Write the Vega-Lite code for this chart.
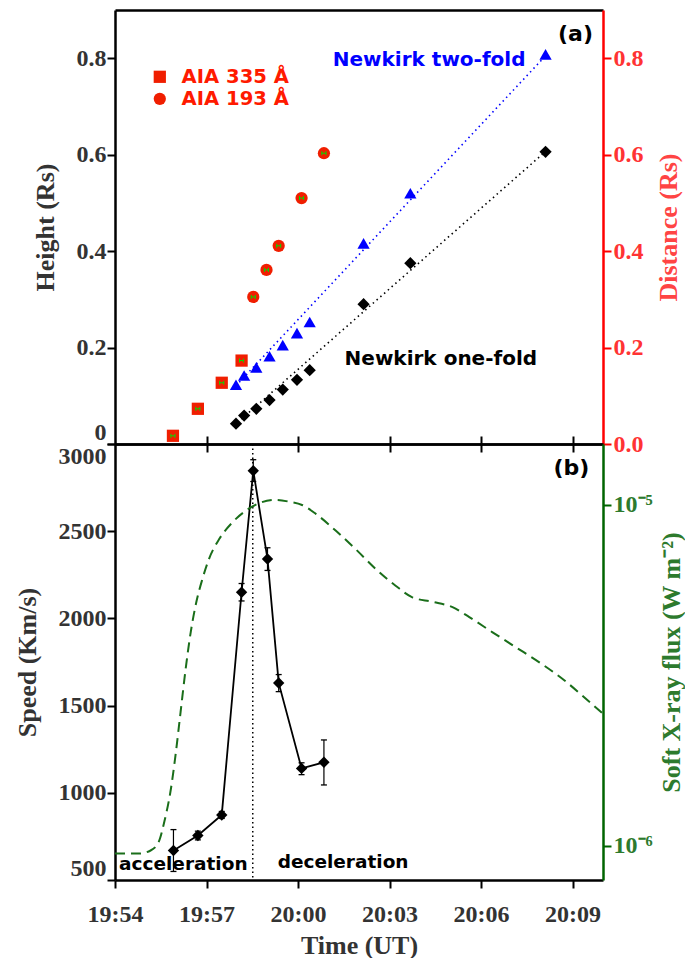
{
  "$schema": "https://vega.github.io/schema/vega-lite/v6.json",
  "background": "white",
  "padding": {"left": 14, "top": 10, "right": 0, "bottom": 0},
  "spacing": 0,
  "bounds": "flush",
  "config": {
    "view": {"stroke": null},
    "axis": {
      "grid": false,
      "ticks": true,
      "tickSize": 8,
      "tickWidth": 2,
      "tickColor": "black",
      "domainColor": "black",
      "domainWidth": 2.5,
      "labelFont": "Liberation Serif",
      "labelFontWeight": "bold",
      "labelFontSize": 24,
      "labelColor": "#333333",
      "titleFont": "Liberation Serif",
      "titleFontWeight": "bold",
      "titleFontSize": 26,
      "titleColor": "#333333",
      "labelOverlap": false
    }
  },
  "datasets": {
    "aia": [
      {"time": "2012-01-01T19:55:54", "tlo": "2012-01-01T19:55:50", "thi": "2012-01-01T19:55:58", "h": 0.017, "band": "AIA 335 Å"},
      {"time": "2012-01-01T19:56:43", "tlo": "2012-01-01T19:56:39", "thi": "2012-01-01T19:56:47", "h": 0.073, "band": "AIA 335 Å"},
      {"time": "2012-01-01T19:57:30", "tlo": "2012-01-01T19:57:26", "thi": "2012-01-01T19:57:34", "h": 0.127, "band": "AIA 335 Å"},
      {"time": "2012-01-01T19:58:09", "tlo": "2012-01-01T19:58:05", "thi": "2012-01-01T19:58:13", "h": 0.173, "band": "AIA 335 Å"},
      {"time": "2012-01-01T19:58:32", "tlo": "2012-01-01T19:58:28", "thi": "2012-01-01T19:58:36", "h": 0.305, "band": "AIA 193 Å"},
      {"time": "2012-01-01T19:58:58", "tlo": "2012-01-01T19:58:54", "thi": "2012-01-01T19:59:02", "h": 0.361, "band": "AIA 193 Å"},
      {"time": "2012-01-01T19:59:22", "tlo": "2012-01-01T19:59:18", "thi": "2012-01-01T19:59:26", "h": 0.411, "band": "AIA 193 Å"},
      {"time": "2012-01-01T20:00:07", "tlo": "2012-01-01T20:00:03", "thi": "2012-01-01T20:00:11", "h": 0.510, "band": "AIA 193 Å"},
      {"time": "2012-01-01T20:00:51", "tlo": "2012-01-01T20:00:47", "thi": "2012-01-01T20:00:55", "h": 0.603, "band": "AIA 193 Å"}
    ],
    "two": [
      {"time": "2012-01-01T19:57:58", "h": 0.123},
      {"time": "2012-01-01T19:58:14", "h": 0.142},
      {"time": "2012-01-01T19:58:38", "h": 0.159},
      {"time": "2012-01-01T19:59:04", "h": 0.182},
      {"time": "2012-01-01T19:59:30", "h": 0.205},
      {"time": "2012-01-01T19:59:58", "h": 0.230},
      {"time": "2012-01-01T20:00:23", "h": 0.253},
      {"time": "2012-01-01T20:02:09", "h": 0.416},
      {"time": "2012-01-01T20:03:41", "h": 0.520},
      {"time": "2012-01-01T20:08:07", "h": 0.808}
    ],
    "one": [
      {"time": "2012-01-01T19:57:58", "h": 0.042},
      {"time": "2012-01-01T19:58:14", "h": 0.059},
      {"time": "2012-01-01T19:58:38", "h": 0.073},
      {"time": "2012-01-01T19:59:04", "h": 0.091},
      {"time": "2012-01-01T19:59:30", "h": 0.113},
      {"time": "2012-01-01T19:59:58", "h": 0.133},
      {"time": "2012-01-01T20:00:23", "h": 0.153},
      {"time": "2012-01-01T20:02:09", "h": 0.290},
      {"time": "2012-01-01T20:03:41", "h": 0.375},
      {"time": "2012-01-01T20:08:07", "h": 0.606}
    ],
    "fit2": [
      {"time": "2012-01-01T19:57:51", "h": 0.113},
      {"time": "2012-01-01T20:08:07", "h": 0.805}
    ],
    "fit1": [
      {"time": "2012-01-01T19:57:54", "h": 0.038},
      {"time": "2012-01-01T20:08:01", "h": 0.601}
    ],
    "speed": [
      {"time": "2012-01-01T19:55:55", "v": 669, "lo": 549, "hi": 789},
      {"time": "2012-01-01T19:56:43", "v": 755, "lo": 730, "hi": 780},
      {"time": "2012-01-01T19:57:30", "v": 873, "lo": 853, "hi": 893},
      {"time": "2012-01-01T19:58:09", "v": 2150, "lo": 2100, "hi": 2200},
      {"time": "2012-01-01T19:58:32", "v": 2847, "lo": 2785, "hi": 2910},
      {"time": "2012-01-01T19:59:00", "v": 2341, "lo": 2275, "hi": 2405},
      {"time": "2012-01-01T19:59:22", "v": 1630, "lo": 1580, "hi": 1678},
      {"time": "2012-01-01T20:00:07", "v": 1140, "lo": 1104, "hi": 1172},
      {"time": "2012-01-01T20:00:51", "v": 1175, "lo": 1045, "hi": 1303}
    ],
    "peak": [{"time": "2012-01-01T19:58:31"}],
    "goes": [
      {"time": "2012-01-01T19:54:00", "flux": 9.48e-7},
      {"time": "2012-01-01T19:54:47", "flux": 9.48e-7},
      {"time": "2012-01-01T19:55:10", "flux": 9.68e-7},
      {"time": "2012-01-01T19:55:26", "flux": 1.026e-6},
      {"time": "2012-01-01T19:55:37", "flux": 1.175e-6},
      {"time": "2012-01-01T19:55:50", "flux": 1.469e-6},
      {"time": "2012-01-01T19:55:59", "flux": 1.841e-6},
      {"time": "2012-01-01T19:56:09", "flux": 2.466e-6},
      {"time": "2012-01-01T19:56:19", "flux": 3.304e-6},
      {"time": "2012-01-01T19:56:29", "flux": 4.236e-6},
      {"time": "2012-01-01T19:56:40", "flux": 5.188e-6},
      {"time": "2012-01-01T19:56:52", "flux": 6.067e-6},
      {"time": "2012-01-01T19:57:05", "flux": 6.95e-6},
      {"time": "2012-01-01T19:57:25", "flux": 7.943e-6},
      {"time": "2012-01-01T19:57:51", "flux": 8.892e-6},
      {"time": "2012-01-01T19:58:17", "flux": 9.616e-6},
      {"time": "2012-01-01T19:58:43", "flux": 1.0116e-5},
      {"time": "2012-01-01T19:59:16", "flux": 1.035e-5},
      {"time": "2012-01-01T19:59:42", "flux": 1.023e-5},
      {"time": "2012-01-01T20:00:08", "flux": 1.0e-5},
      {"time": "2012-01-01T20:00:35", "flux": 9.419e-6},
      {"time": "2012-01-01T20:01:14", "flux": 8.414e-6},
      {"time": "2012-01-01T20:01:53", "flux": 7.43e-6},
      {"time": "2012-01-01T20:02:33", "flux": 6.486e-6},
      {"time": "2012-01-01T20:03:12", "flux": 5.794e-6},
      {"time": "2012-01-01T20:03:45", "flux": 5.358e-6},
      {"time": "2012-01-01T20:04:24", "flux": 5.2e-6},
      {"time": "2012-01-01T20:05:04", "flux": 5.012e-6},
      {"time": "2012-01-01T20:05:37", "flux": 4.688e-6},
      {"time": "2012-01-01T20:06:22", "flux": 4.236e-6},
      {"time": "2012-01-01T20:07:08", "flux": 3.828e-6},
      {"time": "2012-01-01T20:07:54", "flux": 3.459e-6},
      {"time": "2012-01-01T20:08:40", "flux": 3.09e-6},
      {"time": "2012-01-01T20:09:19", "flux": 2.761e-6},
      {"time": "2012-01-01T20:10:00", "flux": 2.438e-6}
    ]
  },
  "vconcat": [
    {
      "width": 488,
      "height": 434,
      "layer": [
        {
          "layer": [
            {
              "data": {"name": "fit2"},
              "mark": {"type": "line", "color": "#0000ff", "strokeDash": [1.5, 3.5], "strokeWidth": 1.6},
              "encoding": {
                "x": {
                  "field": "time", "type": "temporal",
                  "scale": {"domain": [{"year": 2012, "month": 1, "date": 1, "hours": 19, "minutes": 54}, {"year": 2012, "month": 1, "date": 1, "hours": 20, "minutes": 10}]},
                  "axis": {"orient": "bottom", "labels": false, "title": null,
                    "values": [{"year": 2012, "month": 1, "date": 1, "hours": 19, "minutes": 57}, {"year": 2012, "month": 1, "date": 1, "hours": 20, "minutes": 0}, {"year": 2012, "month": 1, "date": 1, "hours": 20, "minutes": 3}, {"year": 2012, "month": 1, "date": 1, "hours": 20, "minutes": 6}, {"year": 2012, "month": 1, "date": 1, "hours": 20, "minutes": 9}]}
                },
                "y": {
                  "field": "h", "type": "quantitative",
                  "scale": {"domain": [0, 0.9], "nice": false, "zero": false},
                  "axis": {
                    "orient": "left", "title": "Height (Rs)", "titlePadding": 18,
                    "values": [0, 0.2, 0.4, 0.6, 0.8],
                    "labelExpr": "datum.value == 0 ? '0' : format(datum.value, '.1f')",
                    "labelPadding": 1, "labelFlush": true
                  }
                }
              }
            },
            {
              "data": {"name": "aia"},
              "mark": {"type": "point", "filled": true, "size": 150, "color": "#f01e00", "opacity": 1},
              "encoding": {
                "x": {"field": "time", "type": "temporal"},
                "y": {"field": "h", "type": "quantitative"},
                "shape": {
                  "field": "band", "type": "nominal",
                  "scale": {"domain": ["AIA 335 Å", "AIA 193 Å"], "range": ["square", "circle"]},
                  "legend": {"title": null, "orient": "none", "legendX": 35, "legendY": 57, "padding": 0, "labelFont": "DejaVu Sans", "labelFontWeight": "bold", "labelFontSize": 19.6, "labelColor": "#ff1a00", "symbolSize": 150, "labelOffset": 12, "rowPadding": 1}
                }
              }
            },
            {
              "data": {"name": "aia"},
              "mark": {"type": "rule", "color": "#00dd00", "strokeWidth": 1},
              "encoding": {
                "x": {"field": "tlo", "type": "temporal"},
                "x2": {"field": "thi"},
                "y": {"field": "h", "type": "quantitative"}
              }
            },
            {
              "data": {"name": "aia"},
              "mark": {"type": "point", "shape": "stroke", "angle": 90, "size": 16, "color": "#00dd00", "strokeWidth": 1, "opacity": 1},
              "encoding": {
                "x": {"field": "tlo", "type": "temporal"},
                "y": {"field": "h", "type": "quantitative"}
              }
            },
            {
              "data": {"name": "aia"},
              "mark": {"type": "point", "shape": "stroke", "angle": 90, "size": 16, "color": "#00dd00", "strokeWidth": 1, "opacity": 1},
              "encoding": {
                "x": {"field": "thi", "type": "temporal"},
                "y": {"field": "h", "type": "quantitative"}
              }
            },
            {
              "data": {"name": "two"},
              "mark": {"type": "point", "shape": "triangle-up", "filled": true, "size": 150, "color": "#0000ff", "opacity": 1},
              "encoding": {
                "x": {"field": "time", "type": "temporal"},
                "y": {"field": "h", "type": "quantitative"}
              }
            },
            {
              "data": {"values": [{"time": "2012-01-01T20:04:18", "h": 0.796, "label": "Newkirk two-fold"}]},
              "mark": {"type": "text", "font": "DejaVu Sans", "fontWeight": "bold", "fontSize": 20, "color": "#0000ff", "align": "center", "baseline": "middle"},
              "encoding": {
                "x": {"field": "time", "type": "temporal"},
                "y": {"field": "h", "type": "quantitative"},
                "text": {"field": "label"}
              }
            },
            {
              "data": {"values": [{"time": "2012-01-01T20:04:41", "h": 0.176, "label": "Newkirk one-fold"}]},
              "mark": {"type": "text", "font": "DejaVu Sans", "fontWeight": "bold", "fontSize": 20, "color": "black", "align": "center", "baseline": "middle"},
              "encoding": {
                "x": {"field": "time", "type": "temporal"},
                "y": {"field": "h", "type": "quantitative"},
                "text": {"field": "label"}
              }
            },
            {
              "data": {"values": [{"time": "2012-01-01T20:09:06", "h": 0.85, "label": "(a)"}]},
              "mark": {"type": "text", "font": "DejaVu Sans", "fontWeight": "bold", "fontSize": 22, "color": "black", "align": "center", "baseline": "middle"},
              "encoding": {
                "x": {"field": "time", "type": "temporal"},
                "y": {"field": "h", "type": "quantitative"},
                "text": {"field": "label"}
              }
            }
          ]
        },
        {
          "layer": [
            {
              "data": {"name": "fit1"},
              "mark": {"type": "line", "color": "black", "strokeDash": [1.5, 3.5], "strokeWidth": 1.6},
              "encoding": {
                "x": {
                  "field": "time", "type": "temporal",
                  "axis": {"orient": "top", "labels": false, "title": null, "ticks": false,
                    "values": [{"year": 2012, "month": 1, "date": 1, "hours": 19, "minutes": 57}, {"year": 2012, "month": 1, "date": 1, "hours": 20, "minutes": 0}, {"year": 2012, "month": 1, "date": 1, "hours": 20, "minutes": 3}, {"year": 2012, "month": 1, "date": 1, "hours": 20, "minutes": 6}, {"year": 2012, "month": 1, "date": 1, "hours": 20, "minutes": 9}]}
                },
                "y": {
                  "field": "h", "type": "quantitative",
                  "scale": {"domain": [0, 0.9], "nice": false, "zero": false},
                  "axis": {
                    "orient": "right", "title": "Distance (Rs)", "titleAngle": 270, "titleBaseline": "top", "titlePadding": 12,
                    "values": [0, 0.2, 0.4, 0.6, 0.8],
                    "format": ".1f",
                    "labelPadding": 2,
                    "domainColor": "#ff0000", "tickColor": "#ff0000", "labelColor": "#ff3333", "titleColor": "#ff4444"
                  }
                }
              }
            },
            {
              "data": {"name": "one"},
              "mark": {"type": "point", "shape": "diamond", "filled": true, "size": 150, "color": "black", "opacity": 1},
              "encoding": {
                "x": {"field": "time", "type": "temporal"},
                "y": {"field": "h", "type": "quantitative"}
              }
            }
          ]
        }
      ],
      "resolve": {"scale": {"y": "independent"}, "axis": {"x": "independent", "y": "independent"}}
    },
    {
      "width": 488,
      "height": 436,
      "layer": [
        {
          "layer": [
            {
              "data": {"name": "peak"},
              "mark": {"type": "rule", "color": "black", "strokeDash": [1.5, 3], "strokeWidth": 1.5},
              "encoding": {
                "x": {
                  "field": "time", "type": "temporal",
                  "scale": {"domain": [{"year": 2012, "month": 1, "date": 1, "hours": 19, "minutes": 54}, {"year": 2012, "month": 1, "date": 1, "hours": 20, "minutes": 10}]},
                  "axis": {
                    "orient": "bottom", "title": "Time (UT)", "titlePadding": 6,
                    "values": [{"year": 2012, "month": 1, "date": 1, "hours": 19, "minutes": 54}, {"year": 2012, "month": 1, "date": 1, "hours": 19, "minutes": 57}, {"year": 2012, "month": 1, "date": 1, "hours": 20, "minutes": 0}, {"year": 2012, "month": 1, "date": 1, "hours": 20, "minutes": 3}, {"year": 2012, "month": 1, "date": 1, "hours": 20, "minutes": 6}, {"year": 2012, "month": 1, "date": 1, "hours": 20, "minutes": 9}],
                    "format": "%H:%M",
                    "labelPadding": 14, "labelFlush": false
                  }
                }
              }
            },
            {
              "data": {"name": "speed"},
              "mark": {"type": "rule", "color": "black", "strokeWidth": 1.2},
              "encoding": {
                "x": {"field": "time", "type": "temporal"},
                "y": {
                  "field": "lo", "type": "quantitative",
                  "scale": {"domain": [500, 3000], "nice": false, "zero": false},
                  "axis": {
                    "orient": "left", "title": "Speed (Km/s)", "titlePadding": 18,
                    "values": [500, 1000, 1500, 2000, 2500, 3000],
                    "format": "d",
                    "labelPadding": 1, "labelFlush": true
                  }
                },
                "y2": {"field": "hi"}
              }
            },
            {
              "data": {"name": "speed"},
              "mark": {"type": "point", "shape": "stroke", "size": 36, "color": "black", "strokeWidth": 1.3, "opacity": 1},
              "encoding": {
                "x": {"field": "time", "type": "temporal"},
                "y": {"field": "lo", "type": "quantitative"}
              }
            },
            {
              "data": {"name": "speed"},
              "mark": {"type": "point", "shape": "stroke", "size": 36, "color": "black", "strokeWidth": 1.3, "opacity": 1},
              "encoding": {
                "x": {"field": "time", "type": "temporal"},
                "y": {"field": "hi", "type": "quantitative"}
              }
            },
            {
              "data": {"name": "speed"},
              "mark": {"type": "line", "color": "black", "strokeWidth": 1.8, "point": {"shape": "diamond", "size": 130, "filled": true, "color": "black", "opacity": 1}},
              "encoding": {
                "x": {"field": "time", "type": "temporal"},
                "y": {"field": "v", "type": "quantitative"}
              }
            },
            {
              "data": {"values": [{"time": "2012-01-01T19:54:08", "v": 590, "label": "acceleration"}, {"time": "2012-01-01T19:59:20", "v": 602, "label": "deceleration"}]},
              "mark": {"type": "text", "font": "DejaVu Sans", "fontWeight": "bold", "fontSize": 18.5, "color": "black", "align": "left", "baseline": "middle"},
              "encoding": {
                "x": {"field": "time", "type": "temporal"},
                "y": {"field": "v", "type": "quantitative"},
                "text": {"field": "label"}
              }
            },
            {
              "data": {"values": [{"time": "2012-01-01T20:08:58", "v": 2865, "label": "(b)"}]},
              "mark": {"type": "text", "font": "DejaVu Sans", "fontWeight": "bold", "fontSize": 22, "color": "black", "align": "center", "baseline": "middle"},
              "encoding": {
                "x": {"field": "time", "type": "temporal"},
                "y": {"field": "v", "type": "quantitative"},
                "text": {"field": "label"}
              }
            }
          ]
        },
        {
          "data": {"name": "goes"},
          "mark": {"type": "line", "color": "#1a6e1a", "strokeDash": [10, 6], "strokeWidth": 2, "interpolate": "monotone", "clip": true},
          "encoding": {
            "x": {
              "field": "time", "type": "temporal",
              "axis": {"orient": "top", "labels": false, "title": null,
                "values": [{"year": 2012, "month": 1, "date": 1, "hours": 19, "minutes": 57}, {"year": 2012, "month": 1, "date": 1, "hours": 20, "minutes": 0}, {"year": 2012, "month": 1, "date": 1, "hours": 20, "minutes": 3}, {"year": 2012, "month": 1, "date": 1, "hours": 20, "minutes": 6}, {"year": 2012, "month": 1, "date": 1, "hours": 20, "minutes": 9}]}
            },
            "y": {
              "field": "flux", "type": "quantitative",
              "scale": {"type": "log", "domain": [7.93e-7, 1.51e-5], "nice": false},
              "axis": {
                "orient": "right", "title": "Soft X-ray flux (W m⁻²)", "titleAngle": 270, "titleBaseline": "top", "titlePadding": 6,
                "values": [1e-6, 1e-5],
                "labelExpr": "datum.value > 5e-6 ? '10⁻⁵' : '10⁻⁶'",
                "labelPadding": 2,
                "domainColor": "#006400", "tickColor": "#006400", "labelColor": "#2d7a2d", "titleColor": "#2d7a2d"
              }
            }
          }
        }
      ],
      "resolve": {"scale": {"y": "independent"}, "axis": {"x": "independent", "y": "independent"}}
    }
  ]
}
